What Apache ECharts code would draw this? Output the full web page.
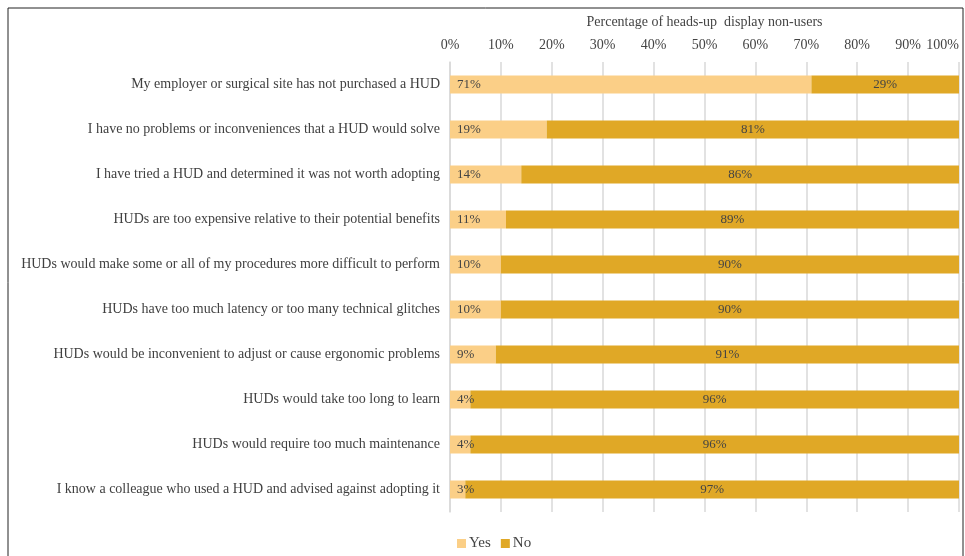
<!DOCTYPE html>
<html>
<head>
<meta charset="utf-8">
<script src="https://cdn.jsdelivr.net/npm/echarts@6/dist/echarts.min.js"></script>
<style>
  html, body { margin: 0; padding: 0; background: #fff; }
  #chart { width: 965px; height: 556px; }
</style>
</head>
<body>
<div id="chart"></div>
<script>
  // reasons for not using a HUD, top to bottom
  const categories = [
    'My employer or surgical site has not purchased a HUD',
    'I have no problems or inconveniences that a HUD would solve',
    'I have tried a HUD and determined it was not worth adopting',
    'HUDs are too expensive relative to their potential benefits',
    'HUDs would make some or all of my procedures more difficult to perform',
    'HUDs have too much latency or too many technical glitches',
    'HUDs would be inconvenient to adjust or cause ergonomic problems',
    'HUDs would take too long to learn',
    'HUDs would require too much maintenance',
    'I know a colleague who used a HUD and advised against adopting it'
  ];
  const yesValues = [71, 19, 14, 11, 10, 10, 9, 4, 4, 3];
  const noValues = [29, 81, 86, 89, 90, 90, 91, 96, 96, 97];

  const font = '"Liberation Serif", "Times New Roman", serif';
  const chart = echarts.init(document.getElementById('chart'));

  const options = {
    animation: false,
    textStyle: { fontFamily: font },
    graphic: [{
      type: 'rect',
      shape: { x: 8, y: 8, width: 955, height: 560 },
      style: { fill: 'none', stroke: '#222', lineWidth: 1 },
      silent: true
    }],
    grid: { left: 450, right: 6, top: 62, bottom: 44, containLabel: false, outerBoundsMode: 'none' },
    legend: {
      bottom: 0,
      left: 452,
      itemWidth: 9,
      itemHeight: 9,
      itemGap: 10,
      icon: 'rect',
      textStyle: { fontFamily: font, fontSize: 15, color: '#444', padding: [0, 0, 0, -2] },
      data: ['Yes', 'No']
    },
    xAxis: {
      type: 'value',
      position: 'top',
      min: 0,
      max: 100,
      interval: 10,
      name: 'Percentage of heads-up  display non-users',
      nameLocation: 'middle',
      nameGap: 33,
      nameTextStyle: { fontFamily: font, fontSize: 14, color: '#444' },
      axisLine: { show: false },
      axisTick: { show: false },
      axisLabel: {
        formatter: '{value}%',
        fontFamily: font,
        fontSize: 14,
        color: '#444',
        margin: 10,
        alignMaxLabel: 'right'
      },
      splitLine: { show: true, lineStyle: { color: '#d9d9d9', width: 1.5 } }
    },
    yAxis: {
      type: 'category',
      inverse: true,
      data: categories,
      axisLine: { show: true, lineStyle: { color: '#d9d9d9', width: 1.5 } },
      axisTick: { show: false },
      axisLabel: { fontFamily: font, fontSize: 14, color: '#404040', margin: 10 }
    },
    series: [
      {
        name: 'Yes',
        type: 'bar',
        stack: 'total',
        barWidth: 18,
        itemStyle: { color: '#FBCF87' },
        label: {
          show: true,
          position: 'insideLeft',
          offset: [2, 0],
          formatter: '{c}%',
          fontFamily: font,
          fontSize: 13,
          color: '#444'
        },
        data: yesValues
      },
      {
        name: 'No',
        type: 'bar',
        stack: 'total',
        barWidth: 18,
        itemStyle: { color: '#E0A826' },
        label: {
          show: true,
          position: 'inside',
          formatter: '{c}%',
          fontFamily: font,
          fontSize: 13,
          color: '#444'
        },
        data: noValues
      }
    ]
  };

  chart.setOption(options);
</script>
</body>
</html>
